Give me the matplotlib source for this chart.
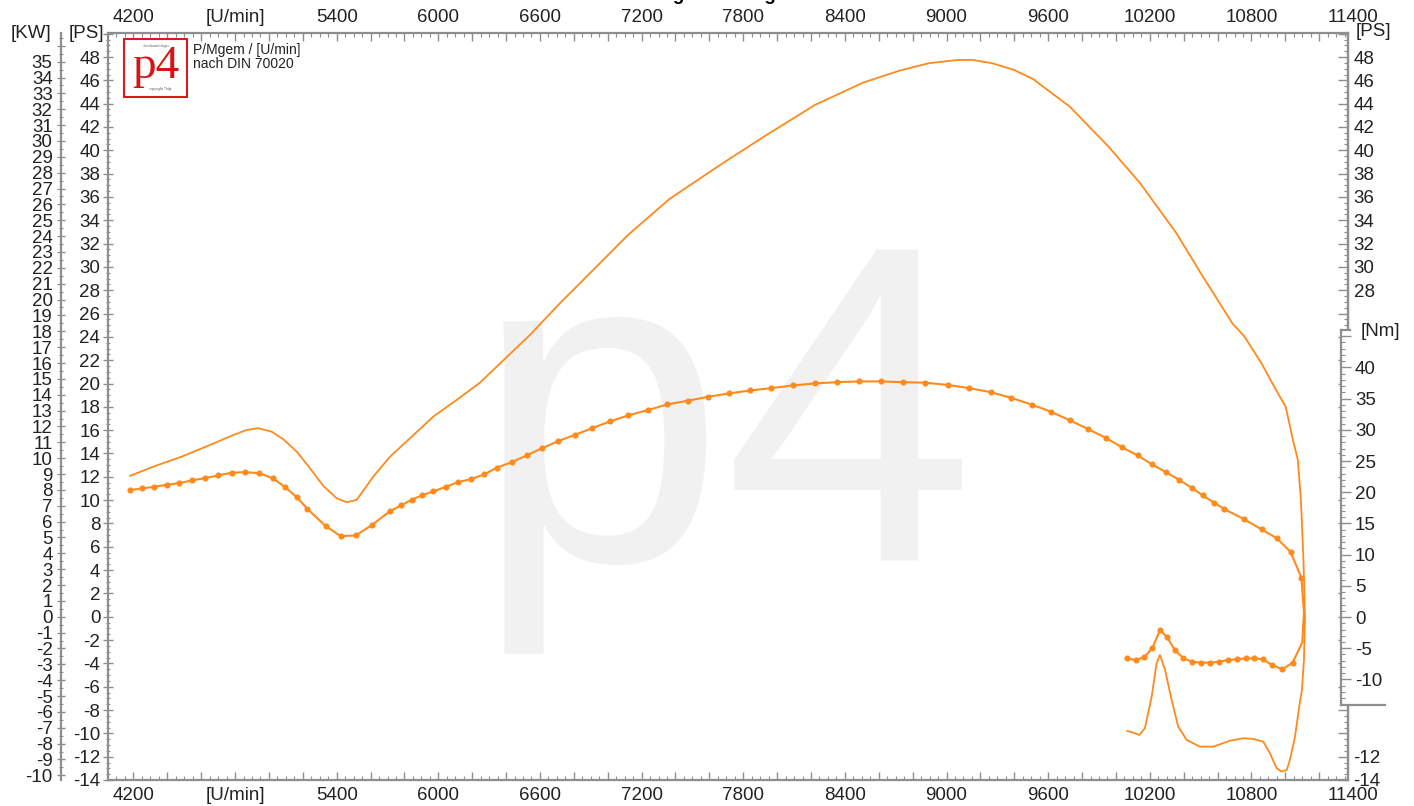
import matplotlib
matplotlib.use("Agg")
import matplotlib.pyplot as plt
from matplotlib.ticker import MultipleLocator, FuncFormatter
from matplotlib.patches import Rectangle
from matplotlib.lines import Line2D

# --- Data ---
# power run (PS), incl. the run-down loop at the end
power_rpm = [4180, 4317, 4485, 4652, 4790, 4869, 4937, 5016, 5085, 5164,
             5242, 5321, 5400, 5459, 5518, 5616, 5715, 5833, 5970, 6108,
             6246, 6541, 6718, 6836, 7120, 7363, 7664, 7922, 8223, 8509,
             8724, 8896, 9068, 9154, 9268, 9398, 9512, 9727, 9956, 10143,
             10357, 10501, 10687, 10759, 10859, 10945, 11002, 11045, 11074, 11092,
             11107, 11116, 11110, 11098, 11082, 11057, 11027, 11008, 10978, 10949,
             10909, 10870, 10811, 10752, 10673, 10575, 10496, 10418, 10368, 10329,
             10290, 10260, 10240, 10211, 10171, 10138, 10102, 10067]
power_ps = [12.08, 12.87, 13.73, 14.73, 15.59, 16.02, 16.17, 15.87, 15.22, 14.16,
            12.74, 11.22, 10.16, 9.82, 10.02, 12.02, 13.73, 15.31, 17.16, 18.59,
            20.08, 24.17, 26.89, 28.60, 32.74, 35.81, 38.75, 41.17, 43.89, 45.81,
            46.84, 47.47, 47.75, 47.75, 47.47, 46.90, 46.10, 43.75, 40.32, 37.18,
            32.89, 29.46, 25.17, 24.02, 21.74, 19.45, 18.02, 15.16, 13.45, 10.02,
            4.87, 0.0, -3.70, -6.28, -7.71, -10.28, -12.28, -13.14, -13.28, -12.99,
            -11.71, -10.71, -10.48, -10.42, -10.63, -11.14, -11.14, -10.57, -9.43, -7.14,
            -4.56, -3.28, -3.99, -6.85, -9.56, -10.14, -9.94, -9.79]

# torque (Nm)
torque_rpm = [4180, 4252, 4323, 4397, 4471, 4544, 4623, 4701, 4780, 4859,
              4941, 5022, 5095, 5164, 5226, 5335, 5424, 5514, 5607, 5715,
              5780, 5843, 5902, 5970, 6045, 6118, 6193, 6270, 6345, 6433,
              6522, 6610, 6708, 6807, 6909, 7013, 7121, 7236, 7352, 7472,
              7594, 7716, 7840, 7964, 8095, 8223, 8355, 8485, 8611, 8745,
              8875, 9006, 9134, 9261, 9380, 9506, 9617, 9729, 9837, 9939,
              10034, 10128, 10211, 10294, 10372, 10447, 10512, 10580, 10640, 10756,
              10860, 10949, 11031, 11095, 11110, 11100, 11043, 10982, 10919, 10866,
              10815, 10766, 10713, 10663, 10610, 10555, 10502, 10449, 10398, 10349,
              10300, 10260, 10215, 10167, 10117, 10067]
torque_nm = [20.34, 20.61, 20.88, 21.20, 21.46, 21.89, 22.26, 22.69, 23.13, 23.22,
             23.06, 22.26, 20.82, 19.21, 17.36, 14.57, 12.96, 13.08, 14.73, 16.97,
             17.88, 18.80, 19.49, 20.13, 20.88, 21.62, 22.10, 22.85, 23.93, 24.82,
             25.90, 27.02, 28.19, 29.21, 30.27, 31.35, 32.31, 33.16, 34.07, 34.66,
             35.30, 35.83, 36.31, 36.68, 37.12, 37.44, 37.64, 37.76, 37.76, 37.64,
             37.55, 37.20, 36.68, 36.04, 35.14, 34.02, 32.90, 31.51, 30.11, 28.73,
             27.23, 25.90, 24.50, 23.22, 22.00, 20.72, 19.49, 18.32, 17.29, 15.69,
             14.04, 12.64, 10.43, 6.30, 0.74, -4.07, -7.32, -8.40, -7.64, -6.75,
             -6.63, -6.63, -6.79, -6.91, -7.16, -7.32, -7.32, -7.16, -6.59, -5.35,
             -3.16, -2.10, -4.98, -6.43, -6.91, -6.63]
torque_no_marker = [74, 75]   # turning point of the run-down, drawn without dots

PS_PER_KW = 1.36

# --- Style ---
W, H = 1414, 806
ORANGE = "#ff8a1c"
GREY = "#8e8e8e"
TXT = "#222222"
FONT = "Liberation Sans"
FS = 13.5
plt.rcParams["font.family"] = [FONT, "DejaVu Sans"]
plt.rcParams["font.size"] = FS


def fx(x):
    return x / W


def fy(y):
    return 1 - y / H


def grey_spines(a):
    for sp in a.spines.values():
        sp.set_color(GREY)
        sp.set_linewidth(1.6)


fig = plt.figure(figsize=(W / 100, H / 100), dpi=100)
fig.patch.set_facecolor("white")

# main plot area (PS on the y axis)
ax = fig.add_axes([fx(108), fy(780), (1348 - 108) / W, (780 - 33) / H])
ax.set_xlim(4050, 11370)
ax.set_ylim(-14, 50.06)
grey_spines(ax)

# x axis, top and bottom
ax.xaxis.set_major_locator(MultipleLocator(200))
ax.xaxis.set_minor_locator(MultipleLocator(50))


def rpm_fmt(v, _):
    r = int(round(v))
    if r == 4800:
        return "[U/min]"
    return str(r) if r % 600 == 0 else ""


ax.xaxis.set_major_formatter(FuncFormatter(rpm_fmt))
ax.tick_params(axis="x", which="both", direction="in", top=True, labeltop=True,
               colors=GREY, labelcolor=TXT, labelsize=FS)
ax.tick_params(axis="x", which="major", length=6, width=1, pad=5)
ax.tick_params(axis="x", which="minor", length=3, width=0.8)
# the sheet prints 11400 just past the right border
for yy, va, off in ((1.0, "bottom", 5), (0.0, "top", -5)):
    ax.annotate("11400", xy=(11400, yy), xycoords=ax.get_xaxis_transform(),
                xytext=(0, off), textcoords="offset points", ha="center", va=va,
                color=TXT, fontsize=FS, annotation_clip=False)

# PS left
ax.yaxis.set_major_locator(MultipleLocator(2))
ax.yaxis.set_minor_locator(MultipleLocator(0.5))
ax.yaxis.set_major_formatter(FuncFormatter(lambda v, _: str(int(round(v))) if v < 49 else ""))
ax.tick_params(axis="y", which="both", direction="inout", colors=GREY,
               labelcolor=TXT, labelsize=FS)
ax.tick_params(axis="y", which="major", length=7, width=1, pad=2)
ax.tick_params(axis="y", which="minor", length=3, width=0.8)

# PS right (hidden behind the Nm scale in the middle)
psr = ax.secondary_yaxis("right")
psr.yaxis.set_major_locator(MultipleLocator(2))
psr.yaxis.set_minor_locator(MultipleLocator(0.5))
psr.yaxis.set_major_formatter(FuncFormatter(
    lambda v, _: str(int(round(v))) if (27.5 <= v < 49 or v <= -11.5) else ""))
psr.tick_params(axis="y", which="both", direction="in", colors=GREY,
                labelcolor=TXT, labelsize=FS)
psr.tick_params(axis="y", which="major", length=7, width=1, pad=4)
psr.tick_params(axis="y", which="minor", length=3, width=0.8)
grey_spines(psr)

# KW scale left of the PS scale
kw = ax.secondary_yaxis((61 - 108) / 1240,
                        functions=(lambda p: p / PS_PER_KW, lambda k: k * PS_PER_KW))
kw.yaxis.set_major_locator(MultipleLocator(1))
kw.yaxis.set_minor_locator(MultipleLocator(0.5))
kw.yaxis.set_major_formatter(FuncFormatter(lambda v, _: str(int(round(v))) if v < 35.5 else ""))
kw.tick_params(axis="y", which="both", direction="inout", colors=GREY,
               labelcolor=TXT, labelsize=FS)
kw.tick_params(axis="y", which="major", length=6, width=1, pad=3)
kw.tick_params(axis="y", which="minor", length=3, width=0.8)
grey_spines(kw)

# watermark
ax.text(fx(474), fy(560), "p4", transform=fig.transFigure, fontsize=325,
        color="#f1f1f1", ha="left", va="baseline", family=FONT, zorder=0.5)

# power curve
ax.plot(power_rpm, power_ps, color=ORANGE, lw=1.3, zorder=3)

# torque curve on its own Nm scale (twin)
axt = ax.twinx()
axt.set_ylim(-26.12, 93.6)
axt.axis("off")
marker_idx = [i for i in range(len(torque_rpm)) if i not in torque_no_marker]
axt.plot(torque_rpm, torque_nm, color=ORANGE, lw=1.5, marker="o", ms=3.4,
         markevery=marker_idx, zorder=3)

# Nm bracket scale on the right
axn = fig.add_axes([fx(1341), fy(705), 44 / W, (705 - 330) / H], zorder=5)
axn.set_facecolor("white")
axn.set_xlim(0, 1)
axn.set_xticks([])
for s in ("top", "right"):
    axn.spines[s].set_visible(False)
for s in ("left", "bottom"):
    axn.spines[s].set_color(GREY)
    axn.spines[s].set_linewidth(1.6)
axn.add_line(Line2D([0, 9 / 44], [1, 1], transform=axn.transAxes, color=GREY,
                    lw=1.6, clip_on=False))
axn.set_yticks(list(range(-10, 50, 5)))
axn.set_yticklabels([str(v) if v <= 40 else "" for v in range(-10, 50, 5)], ha="left")
axn.yaxis.set_minor_locator(MultipleLocator(1))
axn.set_ylim(-14.1, 46.0)
axn.tick_params(axis="y", which="both", direction="in", colors=GREY,
                labelcolor=TXT, labelsize=FS)
axn.tick_params(axis="y", which="major", length=7, width=1, pad=-10)
axn.tick_params(axis="y", which="minor", length=3, width=0.8)

# unit labels
fig.text(fx(31), fy(33), "[KW]", ha="center", va="center", color=TXT, fontsize=FS)
fig.text(fx(86), fy(33), "[PS]", ha="center", va="center", color=TXT, fontsize=FS)
fig.text(fx(1373), fy(32), "[PS]", ha="center", va="center", color=TXT, fontsize=FS)
fig.text(fx(1380), fy(331), "[Nm]", ha="center", va="center", color=TXT,
         fontsize=FS, zorder=10)

# header text, cut off at the top of the sheet
fig.text(fx(608), fy(0.5), "Leistungsmessung", ha="left", va="baseline",
         color="black", fontsize=13.4, fontweight="bold")

# p4 stamp
SERIF = ["Liberation Serif", "DejaVu Serif"]
fig.add_artist(Rectangle((fx(124), fy(97)), 63 / W, 58 / H, transform=fig.transFigure,
                         facecolor="white", edgecolor="#d91a1a", lw=1.5, zorder=6))
fig.text(fx(155.5), fy(78), "p4", ha="center", va="baseline", color="#d41515",
         fontsize=34, family=SERIF, zorder=7)
fig.text(fx(155.5), fy(46), "Anerkannt tätiger", ha="center", va="center",
         color="#555555", fontsize=2.6, family=SERIF, zorder=7)
fig.text(fx(160), fy(89), "copyright *bdp", ha="center", va="center",
         color="#555555", fontsize=2.6, family=SERIF, zorder=7)
fig.text(fx(193), fy(50), "P/Mgem / [U/min]", ha="left", va="center", color=TXT,
         fontsize=10, zorder=7)
fig.text(fx(193), fy(64), "nach DIN 70020", ha="left", va="center", color=TXT,
         fontsize=10, zorder=7)

fig.savefig("out.png", dpi=100, facecolor="white")
